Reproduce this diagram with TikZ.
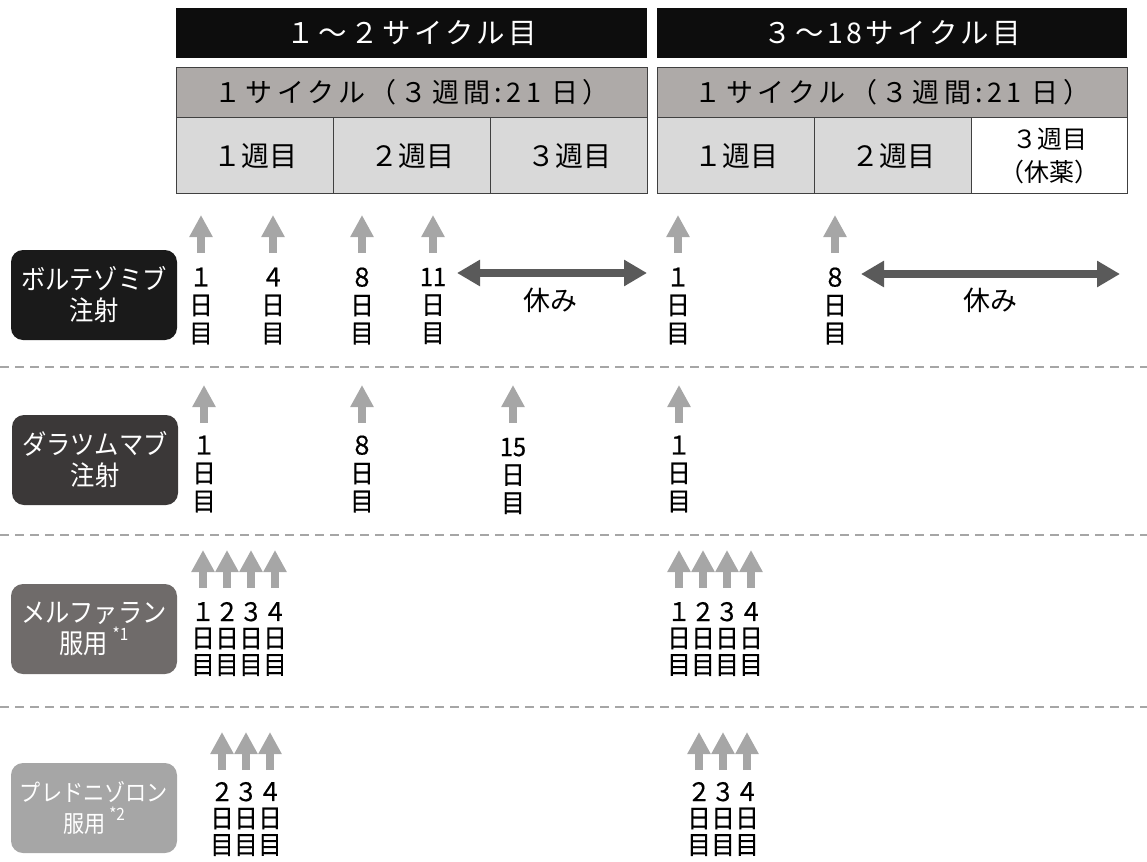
\documentclass[tikz,border=0pt]{standalone}
\usepackage{fontspec}
\setmainfont{Noto Sans CJK JP}
\newfontfamily\jpwide[LetterSpace=12]{Noto Sans CJK JP}
\newfontfamily\jpwider[LetterSpace=16]{Noto Sans CJK JP}
\newfontfamily\jpnarrow[FakeStretch=0.9]{Noto Sans CJK JP}
\newfontfamily\jpday[FakeStretch=0.92,FakeBold=0.6]{Noto Sans CJK JP}
\usetikzlibrary{arrows.meta}
\definecolor{barblack}{HTML}{0D0D0D}
\definecolor{cyclegray}{HTML}{AEAAA8}
\definecolor{cellgray}{HTML}{D9D9D9}
\definecolor{cellborder}{HTML}{404040}
\definecolor{upgray}{HTML}{A6A6A6}
\definecolor{restgray}{HTML}{5A5A5A}
\definecolor{sepgray}{HTML}{A6A6A6}
\definecolor{labA}{HTML}{1A1A1A}
\definecolor{labB}{HTML}{3B3838}
\definecolor{labC}{HTML}{6F6B6A}
\definecolor{labD}{HTML}{A6A6A6}
\newcommand{\supmark}[1]{\raisebox{0.5em}{\fontsize{17}{17}\selectfont #1}}
\begin{document}
\begin{tikzpicture}[x=1pt,y=-1pt,
  blackbar/.style={fill=barblack, text=white, anchor=north west, minimum height=50pt, inner sep=0pt, font=\jpwide\fontsize{28.5}{30}\selectfont},
  cyclebar/.style={fill=cyclegray, draw=cellborder, line width=1.2pt, anchor=north west, minimum height=50pt, inner sep=0pt, font=\jpwider\fontsize{27}{30}\selectfont},
  weekcell/.style={fill=cellgray, draw=cellborder, line width=1.2pt, anchor=north west, minimum height=76pt, minimum width=157pt, inner sep=0pt, align=center, font=\fontsize{28}{30}\selectfont},
  drug/.style={rounded corners=12pt, text=white, minimum width=166pt, minimum height=90pt, inner sep=0pt, align=center, font=\jpnarrow\fontsize{27}{31}\selectfont},
  dayA/.style={align=center, inner sep=0pt, font=\jpday\fontsize{25.5}{28}\selectfont},
  dayB/.style={align=center, inner sep=0pt, font=\jpday\fontsize{25.5}{26.5}\selectfont},
  dose/.style={-{Triangle[width=22pt,length=22pt]}, line width=8pt, draw=upgray},
  rest/.style={{Triangle[width=25pt,length=23pt]}-{Triangle[width=25pt,length=23pt]}, line width=8pt, draw=restgray},
  sep/.style={draw=sepgray, line width=1.5pt, dash pattern=on 9pt off 6pt},
  restlabel/.style={inner sep=0pt, font=\fontsize{27}{30}\selectfont}
]
\useasboundingbox (0,0) rectangle (1147,861);

% ---- headers
\node[blackbar, minimum width=471pt] (hL) at (176,8) {１～２サイクル目};
\node[blackbar, minimum width=470pt] (hR) at (657,8) {３～18サイクル目};
\node[cyclebar, minimum width=471pt] (cL) at (176,67) {１サイクル（３週間:21 日）};
\node[cyclebar, minimum width=470pt] (cR) at (657,67) {１サイクル（３週間:21 日）};
\node[weekcell] (wL1) at (176,117) {１週目};
\node[weekcell] (wL2) at (333,117) {２週目};
\node[weekcell] (wL3) at (490,117) {３週目};
\node[weekcell] (wR1) at (657,117) {１週目};
\node[weekcell] (wR2) at (814,117) {２週目};
\node[weekcell, fill=white, minimum width=156pt, font=\fontsize{25}{33}\selectfont] (wR3) at (971,117) {３週目\\（休薬）};

% ---- separators
\coordinate (s1a) at (0,367); \coordinate (s1b) at (1147,367);
\coordinate (s2a) at (0,535); \coordinate (s2b) at (1147,535);
\coordinate (s3a) at (0,707); \coordinate (s3b) at (1147,707);
\draw[sep] (s1a) -- (s1b);
\draw[sep] (s2a) -- (s2b);
\draw[sep] (s3a) -- (s3b);

% ---- drug labels
\node[drug, fill=labA] (dA) at (94,295) {ボルテゾミブ\\注射};
\node[drug, fill=labB] (dB) at (95,460) {ダラツムマブ\\注射};
\node[drug, fill=labC] (dC) at (94,629) {メルファラン\\服用\,\supmark{*1}};
\node[drug, fill=labD, font=\jpnarrow\fontsize{23.5}{31}\selectfont] (dD) at (94,808) {プレドニゾロン\\服用\,\supmark{*2}};

% ---- row 1 (bortezomib)
\coordinate (r1b) at (0,253); \coordinate (r1t) at (0,215);
\node[dayA] (a1) at (201,306) {１\\日\\目};
\node[dayA] (a4) at (273,306) {４\\日\\目};
\node[dayA] (a8) at (362,306) {８\\日\\目};
\node[dayA] (a11) at (433,306) {11\\日\\目};
\node[dayA] (a1r) at (678,306) {１\\日\\目};
\node[dayA] (a8r) at (835,306) {８\\日\\目};
\foreach \n in {a1,a4,a8,a11,a1r,a8r} \draw[dose] (\n |- r1b) -- (\n |- r1t);
\coordinate (p1) at (457,273); \coordinate (p2) at (647,273);
\coordinate (p3) at (861,274); \coordinate (p4) at (1120,274);
\draw[rest] (p1) -- (p2);
\draw[rest] (p3) -- (p4);
\node[restlabel] (k1) at (550,300) {休み};
\node[restlabel] (k2) at (990,300) {休み};

% ---- row 2 (daratumumab)
\coordinate (r2b) at (0,423); \coordinate (r2t) at (0,385);
\node[dayA] (b1) at (204,474) {１\\日\\目};
\node[dayA] (b8) at (362,474) {８\\日\\目};
\node[dayA] (b15) at (513,476) {15\\日\\目};
\node[dayA] (b1r) at (679,474) {１\\日\\目};
\foreach \n in {b1,b8,b15,b1r} \draw[dose] (\n |- r2b) -- (\n |- r2t);

% ---- row 3 (melphalan)
\coordinate (r3b) at (0,588); \coordinate (r3t) at (0,550);
\node[dayB] (c1) at (203,639) {１\\日\\目};
\node[dayB] (c2) at (227,639) {２\\日\\目};
\node[dayB] (c3) at (251,639) {３\\日\\目};
\node[dayB] (c4) at (275,639) {４\\日\\目};
\node[dayB] (c1r) at (679,639) {１\\日\\目};
\node[dayB] (c2r) at (703,639) {２\\日\\目};
\node[dayB] (c3r) at (727,639) {３\\日\\目};
\node[dayB] (c4r) at (751,639) {４\\日\\目};
\foreach \n in {c1,c2,c3,c4,c1r,c2r,c3r,c4r} \draw[dose] (\n |- r3b) -- (\n |- r3t);

% ---- row 4 (prednisolone)
\coordinate (r4b) at (0,770); \coordinate (r4t) at (0,732);
\node[dayB] (e2) at (222,819) {２\\日\\目};
\node[dayB] (e3) at (246,819) {３\\日\\目};
\node[dayB] (e4) at (270,819) {４\\日\\目};
\node[dayB] (e2r) at (699,819) {２\\日\\目};
\node[dayB] (e3r) at (723,819) {３\\日\\目};
\node[dayB] (e4r) at (747,819) {４\\日\\目};
\foreach \n in {e2,e3,e4,e2r,e3r,e4r} \draw[dose] (\n |- r4b) -- (\n |- r4t);
\end{tikzpicture}
\end{document}
